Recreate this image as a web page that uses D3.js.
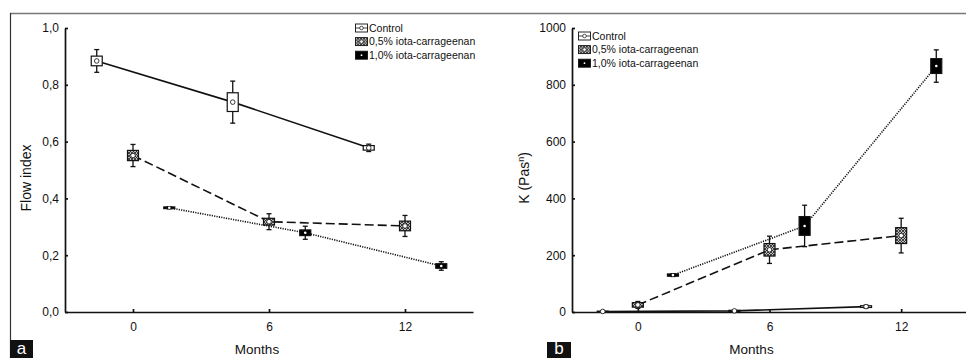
<!DOCTYPE html>
<html lang="en">
<head>
  <meta charset="UTF-8">
  <title>Flow index and K over storage months</title>
  <script src="https://d3js.org/d3.v7.min.js"></script>
  <style>
    body { margin: 0; background: #fff; font-family: "Liberation Sans", Arial, sans-serif; }
    svg { display: block; }
    .axis path, .axis line { stroke: #111; stroke-width: 1.7; }
    .axis text { font-size: 12px; fill: #111; }
    .legend text { font-size: 10.5px; fill: #111; }
  </style>
</head>
<body>
  <script>
    // series + ticks
    const seriesNames = ["Control", "0,5% iota-carrageenan", "1,0% iota-carrageenan"];
    const monthTicks = [0, 6, 12];
    // x position of each series in months (points are shifted around 0, 6, 12)
    const xControl = [-1.6, 4.4, 10.4];
    const xIota05 = [0, 6, 12];
    const xIota10 = [1.6, 7.6, 13.6];

    // panel a: flow index — mean, box half height, whisker half height
    const flowControl = [0.884, 0.739, 0.578];
    const flowControlBox = [0.017, 0.033, 0.008];
    const flowControlWhisk = [0.040, 0.074, 0.013];
    const flowIota05 = [0.551, 0.318, 0.303];
    const flowIota05Box = [0.018, 0.012, 0.017];
    const flowIota05Whisk = [0.039, 0.028, 0.037];
    const flowIota10 = [0.367, 0.279, 0.162];
    const flowIota10Box = [0.003, 0.010, 0.008];
    const flowIota10Whisk = [0.004, 0.023, 0.015];
    const flowTicks = [0, 0.2, 0.4, 0.6, 0.8, 1.0];

    // panel b: K (Pa s^n)
    const kControl = [2, 4, 19];
    const kControlBox = [1, 2, 3];
    const kControlWhisk = [2, 3, 5];
    const kIota05 = [25, 219, 269];
    const kIota05Box = [8, 22, 28];
    const kIota05Whisk = [12, 48, 61];
    const kIota10 = [130, 303, 866];
    const kIota10Box = [4, 33, 26];
    const kIota10Whisk = [5, 73, 57];
    const kTicks = [0, 200, 400, 600, 800, 1000];

    const W = 966, H = 358;
    const svg = d3.select("body").append("svg").attr("width", W).attr("height", H);

    // hatch pattern for the 0,5% boxes
    const defs = svg.append("defs");
    const pat = defs.append("pattern").attr("id", "hatch")
      .attr("patternUnits", "userSpaceOnUse").attr("width", 3).attr("height", 3);
    pat.append("rect").attr("width", 3).attr("height", 3).attr("fill", "#bbb");
    pat.append("path").attr("d", "M0,0L3,3M3,0L0,3").attr("stroke", "#222").attr("stroke-width", 0.8);

    // outer frame lines
    svg.append("line").attr("x1", 10).attr("x2", W).attr("y1", 13.5).attr("y2", 13.5)
      .attr("stroke", "#777").attr("stroke-width", 1.5);
    svg.append("line").attr("x1", 10.5).attr("x2", 10.5).attr("y1", 13).attr("y2", H)
      .attr("stroke", "#333").attr("stroke-width", 1.2);

    const styles = [
      { dash: null, fill: "#fff", dot: "open" },
      { dash: "9,4", fill: "url(#hatch)", dot: "open" },
      { dash: "1.2,1.2", fill: "#000", dot: "white" }
    ];

    function panel(opt) {
      const x = d3.scaleLinear().domain([-3, 15]).range(opt.xr);
      const y = d3.scaleLinear().domain(opt.yd).range([312, 28]);
      const g = svg.append("g");

      g.append("g").attr("class", "axis").attr("transform", "translate(0,312)")
        .call(d3.axisBottom(x).tickValues(monthTicks).tickSizeInner(-3).tickSizeOuter(0).tickPadding(10));
      g.append("g").attr("class", "axis").attr("transform", `translate(${opt.xr[0]},0)`)
        .call(d3.axisLeft(y).tickValues(opt.ticks).tickSizeInner(-3).tickSizeOuter(0).tickPadding(6)
          .tickFormat(opt.fmt));

      const sets = [
        [xControl, opt.data[0], opt.box[0], opt.whisk[0]],
        [xIota05, opt.data[1], opt.box[1], opt.whisk[1]],
        [xIota10, opt.data[2], opt.box[2], opt.whisk[2]]
      ];

      // lines first
      sets.forEach(([xs, m], i) => {
        g.append("path")
          .datum(xs.map((v, j) => [v, m[j]]))
          .attr("fill", "none").attr("stroke", "#111").attr("stroke-width", 1.6)
          .attr("stroke-dasharray", styles[i].dash)
          .attr("d", d3.line().x(d => x(d[0])).y(d => y(d[1])));
      });

      // box + whisker markers
      sets.forEach(([xs, m, b, w], i) => {
        const pts = xs.map((v, j) => ({ x: v, m: m[j], b: b[j], w: w[j] }));
        const mk = g.append("g").selectAll("g").data(pts).join("g");
        mk.append("line")
          .attr("x1", d => x(d.x)).attr("x2", d => x(d.x))
          .attr("y1", d => y(d.m + d.w)).attr("y2", d => y(d.m - d.w))
          .attr("stroke", "#111").attr("stroke-width", 1.3);
        [1, -1].forEach(s => {
          mk.append("line")
            .attr("x1", d => x(d.x) - 2.5).attr("x2", d => x(d.x) + 2.5)
            .attr("y1", d => y(d.m + s * d.w)).attr("y2", d => y(d.m + s * d.w))
            .attr("stroke", "#111").attr("stroke-width", 1.3);
        });
        mk.append("rect")
          .attr("x", d => x(d.x) - 5.5).attr("width", 11)
          .attr("y", d => y(d.m + d.b))
          .attr("height", d => Math.max(y(d.m - d.b) - y(d.m + d.b), 1))
          .attr("fill", styles[i].fill).attr("stroke", "#111").attr("stroke-width", 1.2);
        if (styles[i].dot === "open") {
          mk.append("circle").attr("cx", d => x(d.x)).attr("cy", d => y(d.m)).attr("r", 2.3)
            .attr("fill", "#fff").attr("stroke", "#222").attr("stroke-width", 0.9);
        } else {
          mk.append("circle").attr("cx", d => x(d.x)).attr("cy", d => y(d.m)).attr("r", 1.3)
            .attr("fill", "#fff");
        }
      });

      // legend
      const lg = g.append("g").attr("class", "legend")
        .attr("transform", `translate(${opt.legend[0]},${opt.legend[1]})`);
      seriesNames.forEach((name, i) => {
        const row = lg.append("g").attr("transform", `translate(0,${i * 13.6})`);
        row.append("rect").attr("x", 0.5).attr("y", -4).attr("width", 12).attr("height", 8)
          .attr("fill", styles[i].fill).attr("stroke", "#111").attr("stroke-width", 0.9);
        if (i === 0) {
          row.append("line").attr("x1", 0.5).attr("x2", 12.5).attr("y1", 0).attr("y2", 0)
            .attr("stroke", "#111").attr("stroke-width", 0.8);
          row.append("circle").attr("cx", 6.5).attr("cy", 0).attr("r", 1.8)
            .attr("fill", "#fff").attr("stroke", "#111").attr("stroke-width", 0.7);
        } else if (i === 1) {
          row.append("circle").attr("cx", 6.5).attr("cy", 0).attr("r", 1.8)
            .attr("fill", "#fff").attr("stroke", "#111").attr("stroke-width", 0.7);
        } else {
          row.append("circle").attr("cx", 6.5).attr("cy", 0).attr("r", 0.9).attr("fill", "#fff");
        }
        row.append("text").attr("x", 14).attr("y", 3.8).text(name);
      });

      // axis titles
      g.append("text").attr("x", (opt.xr[0] + x(15)) / 2 + opt.mOff).attr("y", 354)
        .attr("text-anchor", "middle").attr("font-size", 13.5).attr("fill", "#111").text("Months");

      const yt = g.append("text").attr("transform", `translate(${opt.ylx},178) rotate(-90)`)
        .attr("text-anchor", "middle").attr("font-size", 14).attr("fill", "#111");
      opt.ytitle(yt);

      // panel letter
      g.append("rect").attr("x", opt.letter[0]).attr("y", opt.letter[1])
        .attr("width", opt.letter[2]).attr("height", H - opt.letter[1]).attr("fill", "#111");
      g.append("text").attr("x", opt.letter[0] + opt.letter[2] / 2).attr("y", H - 4)
        .attr("text-anchor", "middle").attr("font-size", 17).attr("fill", "#fff").text(opt.letter[3]);
    }

    const comma = d => d3.format(".1f")(d).replace(".", ",");

    panel({
      xr: [65, 473], yd: [0, 1], ticks: flowTicks, fmt: comma,
      data: [flowControl, flowIota05, flowIota10],
      box: [flowControlBox, flowIota05Box, flowIota10Box],
      whisk: [flowControlWhisk, flowIota05Whisk, flowIota10Whisk],
      legend: [355, 28], mOff: -12, ylx: 31,
      ytitle: t => t.text("Flow index"),
      letter: [10, 340, 23, "a"]
    });

    panel({
      xr: [572, 967], yd: [0, 1000], ticks: kTicks, fmt: d3.format("d"),
      data: [kControl, kIota05, kIota10],
      box: [kControlBox, kIota05Box, kIota10Box],
      whisk: [kControlWhisk, kIota05Whisk, kIota10Whisk],
      legend: [578, 36], mOff: -18, ylx: 529,
      ytitle: t => {
        t.append("tspan").text("K (Pas");
        t.append("tspan").attr("dy", -5).attr("font-size", 9).text("n");
        t.append("tspan").attr("dy", 5).text(")");
      },
      letter: [547, 342, 24, "b"]
    });
  </script>
</body>
</html>
